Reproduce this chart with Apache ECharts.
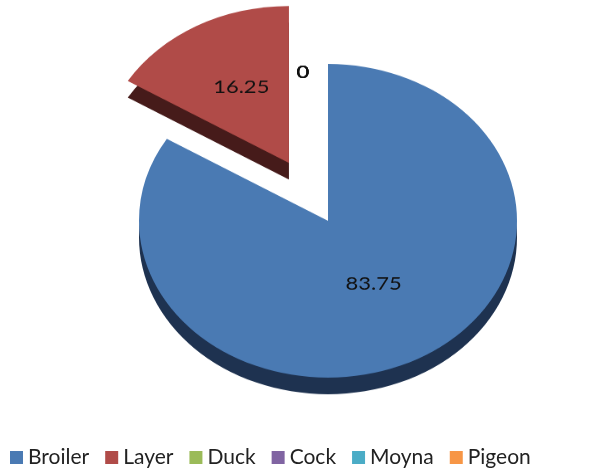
<!DOCTYPE html>
<html>
<head>
<meta charset="utf-8">
<script src="https://cdn.jsdelivr.net/npm/echarts@6/dist/echarts.min.js"></script>
<style>
  html, body { margin: 0; padding: 0; background: #fff; }
  #wrap { position: relative; width: 611px; height: 469px; overflow: hidden; }
  /* the pie is drawn round and then tilted into an ellipse */
  #pie { position: absolute; left: 0; top: 0; width: 611px; height: 565px;
         transform: scaleY(0.83); transform-origin: 0 0; }
  #legend { position: absolute; left: 0; top: 0; width: 611px; height: 469px; }
</style>
</head>
<body>
<div id="wrap">
  <div id="pie"></div>
  <div id="legend"></div>
</div>
<script>
// categories and shares (%)
var birds = ['Broiler', 'Layer', 'Duck', 'Cock', 'Moyna', 'Pigeon'];
var shares = [83.75, 16.25, 0, 0, 0, 0];
var exploded = ['Layer'];

var topColors = ['#4a7ab3', '#b04b48', '#9bbb59', '#8064a2', '#4bacc6', '#f79646'];
var sideColors = ['#1e3250', '#461b1a', '#3d4b22', '#332840', '#1e444f', '#62391b'];

function buildData(colors) {
  return birds.map(function (name, i) {
    return {
      name: name,
      value: shares[i],
      selected: exploded.indexOf(name) >= 0,
      itemStyle: { color: colors[i] }
    };
  });
}

var pie = echarts.init(document.getElementById('pie'));
var R = 189;

pie.setOption({
  animation: false,
  series: [{
    name: 'top',
    type: 'pie',
    z: 3,
    center: [328, 266],
    radius: [0, R],
    startAngle: 90,
    clockwise: true,
    selectedMode: 'single',
    selectedOffset: 80,
    avoidLabelOverlap: false,
    emphasis: { disabled: true },
    itemStyle: { borderWidth: 0 },
    label: {
      show: true,
      position: 'inside',
      formatter: '{c}',
      fontFamily: 'Lato',
      fontSize: 22,
      color: '#111'
    },
    labelLine: { show: false },
    labelLayout: function (p) {
      if (p.dataIndex >= 2) return { dx: -25, dy: -82 };
      if (p.dataIndex === 1) return { dx: 0, dy: -6 };
      return { dx: -2, dy: -9 };
    },
    data: buildData(topColors)
  }, {
    // depth of the disc
    name: 'side',
    type: 'pie',
    z: 2,
    silent: true,
    center: [328, 286],
    radius: [0, R],
    startAngle: 90,
    clockwise: true,
    selectedMode: 'single',
    selectedOffset: 80,
    emphasis: { disabled: true },
    label: { show: false },
    labelLine: { show: false },
    data: buildData(sideColors)
  }]
});

// legend drawn untilted
var legend = echarts.init(document.getElementById('legend'));
legend.setOption({
  animation: false,
  legend: {
    data: birds,
    left: 5,
    top: 442,
    itemWidth: 13,
    itemHeight: 13,
    itemGap: 16,
    icon: 'rect',
    textStyle: { fontFamily: 'Lato', fontSize: 21, color: '#222' },
    selectedMode: false
  },
  series: [{
    type: 'pie',
    silent: true,
    radius: [0, 0],
    label: { show: false },
    data: buildData(topColors)
  }]
});
</script>
</body>
</html>
